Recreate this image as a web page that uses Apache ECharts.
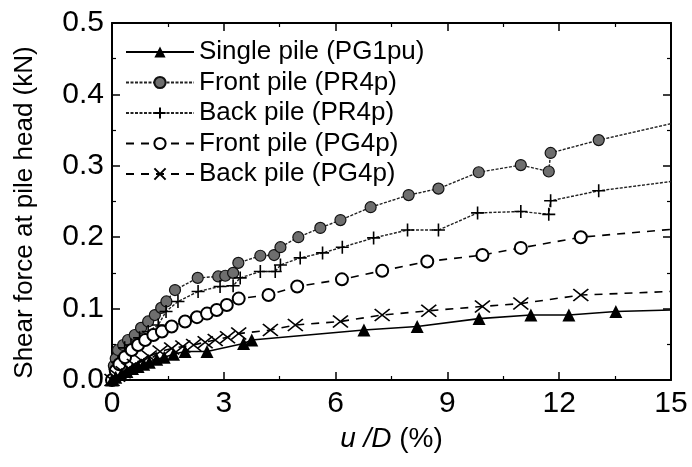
<!DOCTYPE html>
<html><head><meta charset="utf-8">
<script src="https://cdn.jsdelivr.net/npm/echarts@6/dist/echarts.min.js"></script>
<style>html,body{margin:0;padding:0;background:#fff}#c{width:692px;height:467px}</style>
</head><body><div id="c"></div>
<script>
const seriesNames = ['Single pile (PG1pu)','Front pile (PR4p)','Back pile (PR4p)','Front pile (PG4p)','Back pile (PG4p)'];
const xTicks = [0,3,6,9,12,15];
const yTicks = [0.0,0.1,0.2,0.3,0.4,0.5];

const singleX = [0,0.1,0.25,0.4,0.55,0.7,0.85,1.0,1.2,1.4,1.65,1.96,2.55,3.53,3.75,6.76,8.19,9.85,11.24,12.26,13.52,15];
const singleY = [0,0.004,0.008,0.012,0.016,0.019,0.022,0.025,0.029,0.032,0.036,0.040,0.040,0.051,0.056,0.070,0.075,0.086,0.091,0.091,0.096,0.098];

const frontPRX = [0,0.05,0.1,0.16,0.3,0.43,0.61,0.78,0.97,1.15,1.32,1.46,1.69,2.3,2.85,3.04,3.25,3.39,3.98,4.35,4.52,5.0,5.59,6.13,6.94,7.96,8.76,9.84,10.97,11.72,11.77,13.06,15];
const frontPRY = [0,0.02,0.03,0.042,0.049,0.056,0.063,0.073,0.082,0.091,0.101,0.110,0.126,0.143,0.145,0.146,0.150,0.164,0.174,0.175,0.186,0.200,0.213,0.224,0.242,0.259,0.268,0.291,0.301,0.292,0.318,0.336,0.359];

const backPRX = [0,0.08,0.16,0.34,0.51,0.74,0.97,1.24,1.45,1.77,2.31,2.9,3.25,3.44,3.98,4.38,4.52,5.05,5.65,6.18,7.02,7.93,8.76,9.81,10.97,11.72,11.77,13.06,15];
const backPRY = [0,0.015,0.025,0.045,0.049,0.059,0.068,0.077,0.096,0.110,0.124,0.131,0.132,0.143,0.152,0.152,0.161,0.171,0.178,0.186,0.199,0.210,0.210,0.234,0.236,0.232,0.251,0.265,0.278];

const frontPGX = [0,0.1,0.2,0.35,0.53,0.7,0.89,1.11,1.34,1.6,1.96,2.28,2.55,2.81,3.08,3.40,4.2,4.97,6.17,7.25,8.46,9.94,10.97,12.58,15];
const frontPGY = [0,0.013,0.022,0.032,0.042,0.049,0.056,0.063,0.068,0.075,0.082,0.088,0.093,0.098,0.105,0.114,0.119,0.131,0.141,0.153,0.166,0.175,0.185,0.200,0.211];

const backPGX = [0,0.15,0.3,0.45,0.6,0.8,1.0,1.29,1.6,1.9,2.19,2.5,2.77,3.1,3.40,4.25,4.92,6.13,7.25,8.5,9.94,10.97,12.58,15];
const backPGY = [0,0.006,0.011,0.016,0.021,0.027,0.033,0.040,0.044,0.047,0.049,0.053,0.056,0.060,0.065,0.070,0.077,0.082,0.091,0.097,0.103,0.107,0.119,0.124];

function pts(xs, ys){
  return xs.map((x,i)=> i===xs.length-1 ? {value:[x,ys[i]], symbol:'none'} : [x,ys[i]]);
}
const FONT = 'Liberation Sans, Arial, Helvetica, sans-serif';
const chart = echarts.init(document.getElementById('c'), null, {renderer:'canvas'});
function axisCommon(){
  return {
    axisLine:{show:true, onZero:false, lineStyle:{color:'#000', width:2}},
    axisTick:{show:true, inside:true, length:8, lineStyle:{color:'#000', width:1.5}},
    minorTick:{show:true, splitNumber:2, length:4, lineStyle:{color:'#000', width:1.2}},
    splitLine:{show:false}
  };
}
chart.setOption({
  animation:false,
  backgroundColor:'#fff',
  grid:{left:112, right:21, top:23, bottom:87},
  legend:{
    orient:'vertical', left:120, top:34, itemWidth:68, itemHeight:14, itemGap:4.5,
    textStyle:{fontFamily:FONT, fontSize:26, color:'#000', lineHeight:26},
    data:seriesNames
  },
  xAxis:[
    Object.assign({type:'value', min:xTicks[0], max:xTicks[xTicks.length-1], interval:3, position:'bottom',
      axisLabel:{fontFamily:FONT, fontSize:30, color:'#000', margin:9, formatter:v=>String(v)},
      name:'{i|u} {i|/D} {n|(%)}', nameLocation:'middle', nameGap:45,
      nameTextStyle:{fontFamily:FONT, fontSize:28, color:'#000',
        rich:{i:{fontFamily:FONT, fontSize:28, fontStyle:'italic', color:'#000'}, n:{fontFamily:FONT, fontSize:28, color:'#000'}}}
    }, axisCommon()),
    Object.assign({type:'value', min:0, max:15, interval:3, position:'top', axisLabel:{show:false}}, axisCommon())
  ],
  yAxis:[
    Object.assign({type:'value', min:yTicks[0], max:yTicks[yTicks.length-1], interval:0.1, position:'left',
      axisLabel:{fontFamily:FONT, fontSize:30, color:'#000', margin:8, formatter:v=>v.toFixed(1)},
      name:'Shear force at pile head (kN)', nameLocation:'middle', nameGap:74,
      nameTextStyle:{fontFamily:FONT, fontSize:26, color:'#000', padding:[0,22,0,0]}
    }, axisCommon()),
    Object.assign({type:'value', min:0, max:0.5, interval:0.1, position:'right', axisLabel:{show:false}}, axisCommon())
  ],
  series:[
    {name:seriesNames[0], type:'line', data:pts(singleX,singleY), symbol:'triangle', symbolSize:13,
     lineStyle:{color:'#000', width:1.6}, itemStyle:{color:'#000'}, z:5},
    {name:seriesNames[1], type:'line', data:pts(frontPRX,frontPRY), symbol:'circle', symbolSize:11,
     lineStyle:{color:'#222', width:1.4, type:[3,1.5]}, itemStyle:{color:'#6e6e6e', borderColor:'#111', borderWidth:1.2}, z:4},
    {name:seriesNames[2], type:'line', data:pts(backPRX,backPRY), symbol:'path://M0,6L12,6M6,0L6,12', symbolSize:13,
     lineStyle:{color:'#222', width:1.4, type:[3,1.5]}, itemStyle:{color:'transparent', borderColor:'#000', borderWidth:1.6}, z:4},
    {name:seriesNames[3], type:'line', data:pts(frontPGX,frontPGY), symbol:'emptyCircle', symbolSize:12,
     lineStyle:{color:'#000', width:1.6, type:[8,7]}, itemStyle:{color:'#000', borderColor:'#000', borderWidth:1.6}, z:4},
    {name:seriesNames[4], type:'line', data:pts(backPGX,backPGY), symbol:'path://M0,0L12,10M12,0L0,10', symbolSize:[15,12],
     lineStyle:{color:'#000', width:1.6, type:[8,7]}, itemStyle:{color:'transparent', borderColor:'#000', borderWidth:1.6}, z:4}
  ]
});
</script>
</body></html>
